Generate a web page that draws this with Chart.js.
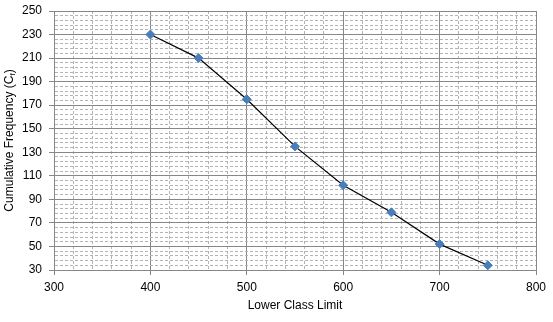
<!DOCTYPE html>
<html>
<head>
<meta charset="utf-8">
<script src="https://cdn.jsdelivr.net/npm/chart.js@4"></script>
<style>
  html, body { margin: 0; padding: 0; background: #fff; }
  #wrap { width: 553px; height: 322px; }
</style>
</head>
<body>
<div id="wrap"><canvas id="chart"></canvas></div>
<script>
  // data
  const lowerLimits = [400, 450, 500, 550, 600, 650, 700, 750];
  const cumFreq = [230, 210, 175, 135, 102, 79, 52, 34];

  const xTickLabels = [300, 400, 500, 600, 700, 800];
  const yTickLabels = [30, 50, 70, 90, 110, 130, 150, 170, 190, 210, 230, 250];
  const xMinorStep = 20;
  const yMinorStep = 4;

  const FONT = "'Liberation Sans', Arial, sans-serif";

  function buildTicks(major, step) {
    const out = [];
    for (let v = major[0]; v <= major[major.length - 1] + 1e-9; v += step) out.push({ value: v });
    return out;
  }
  const isMajor = (list, v) => list.indexOf(v) !== -1;

  // axis titles (y one has a subscript)
  const axisTitles = {
    id: 'axisTitles',
    afterDraw(chart) {
      const { ctx, chartArea } = chart;
      ctx.save();
      ctx.fillStyle = '#000';
      ctx.textBaseline = 'middle';
      ctx.font = '12px ' + FONT;
      ctx.textAlign = 'center';
      ctx.fillText('Lower Class Limit', (chartArea.left + chartArea.right) / 2, 306);

      const main = 'Cumulative Frequency (C';
      const sub = 'f';
      const end = ')';
      ctx.font = '12px ' + FONT;
      const w1 = ctx.measureText(main).width;
      const w3 = ctx.measureText(end).width;
      ctx.font = '8px ' + FONT;
      const w2 = ctx.measureText(sub).width;
      const total = w1 + w2 + w3;
      ctx.translate(10, (chartArea.top + chartArea.bottom) / 2);
      ctx.rotate(-Math.PI / 2);
      ctx.textAlign = 'left';
      let x = -total / 2;
      ctx.font = '12px ' + FONT;
      ctx.fillText(main, x, 0);
      x += w1;
      ctx.font = '8px ' + FONT;
      ctx.fillText(sub, x, 3);
      x += w2;
      ctx.font = '12px ' + FONT;
      ctx.fillText(end, x, 0);
      ctx.restore();
    }
  };

  new Chart(document.getElementById('chart'), {
    type: 'line',
    data: {
      datasets: [{
        data: lowerLimits.map((x, i) => ({ x: x, y: cumFreq[i] })),
        borderColor: '#000',
        borderWidth: 1.2,
        pointStyle: 'rectRot',
        pointRadius: 4.5,
        pointBackgroundColor: '#4a7ebb',
        pointBorderColor: '#4a7ebb',
        pointBorderWidth: 1,
        tension: 0
      }]
    },
    options: {
      responsive: true,
      maintainAspectRatio: false,
      animation: false,
      layout: { padding: { top: 11, right: 17, left: 0, bottom: 0 } },
      plugins: {
        legend: { display: false },
        tooltip: { enabled: false }
      },
      scales: {
        x: {
          type: 'linear',
          min: 300,
          max: 800,
          afterBuildTicks: s => { s.ticks = buildTicks(xTickLabels, xMinorStep); },
          afterFit: s => { s.height = 52; s.paddingLeft = 0; s.paddingRight = 0; },
          ticks: {
            autoSkip: false,
            maxRotation: 0,
            padding: 5,
            color: '#000',
            font: { family: FONT, size: 12 },
            callback: v => isMajor(xTickLabels, v) ? String(v) : ''
          },
          grid: {
            color: c => isMajor(xTickLabels, c.tick.value) ? '#878787' : '#b4b4b4',
            lineWidth: 1,
            tickLength: 5,
            tickColor: c => isMajor(xTickLabels, c.tick.value) ? '#878787' : 'rgba(0,0,0,0)'
          },
          border: {
            color: '#878787',
            dash: c => isMajor(xTickLabels, c.tick.value) ? [] : [3, 2]
          }
        },
        y: {
          type: 'linear',
          min: 30,
          max: 250,
          afterBuildTicks: s => { s.ticks = buildTicks(yTickLabels, yMinorStep); },
          afterFit: s => { s.width = 54; s.paddingTop = 0; s.paddingBottom = 0; },
          ticks: {
            autoSkip: false,
            padding: 7,
            color: '#000',
            font: { family: FONT, size: 12 },
            callback: v => isMajor(yTickLabels, v) ? String(v) : ''
          },
          grid: {
            color: c => isMajor(yTickLabels, c.tick.value) ? '#878787' : '#b4b4b4',
            lineWidth: 1,
            tickLength: 5,
            tickColor: c => isMajor(yTickLabels, c.tick.value) ? '#878787' : 'rgba(0,0,0,0)'
          },
          border: {
            color: '#878787',
            dash: c => isMajor(yTickLabels, c.tick.value) ? [] : [3, 2]
          }
        }
      }
    },
    plugins: [axisTitles]
  });
</script>
</body>
</html>
